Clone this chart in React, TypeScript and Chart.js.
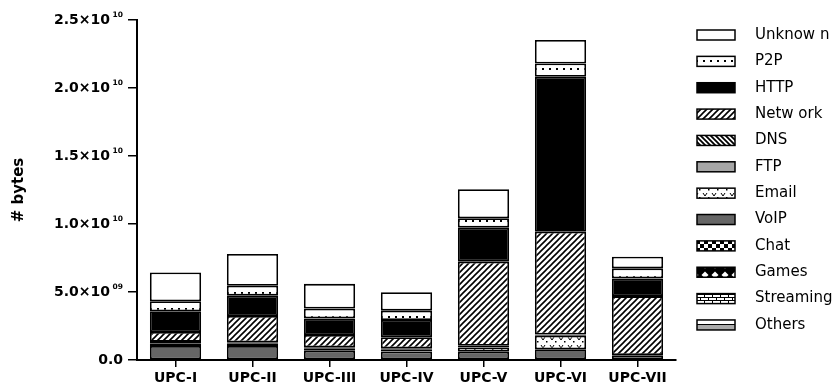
import React, { useEffect, useRef } from 'react';
import { Chart, registerables } from 'chart.js';

Chart.register(...registerables);

// Traffic volume per application class, in units of 10^9 bytes
const categories = ['UPC-I', 'UPC-II', 'UPC-III', 'UPC-IV', 'UPC-V', 'UPC-VI', 'UPC-VII'];
const others = [0, 0, 0, 0, 0, 0, 0];
const streaming = [0, 0, 0, 0, 0, 0, 0];
const games = [0, 0, 0, 0, 0, 0, 0];
const chat = [0, 0, 0, 0, 0, 0, 0];
const voip = [1.03, 1.03, 0.68, 0.62, 0.61, 0.79, 0.35];
const email = [0.2, 0.17, 0.15, 0.14, 0.3, 1.0, 0.02];
const ftp = [0, 0, 0, 0, 0, 0, 0];
const dns = [0.1, 0.1, 0.1, 0.1, 0.14, 0.08, 0];
const network = [0.73, 1.94, 0.91, 0.81, 6.18, 7.56, 4.33];
const http = [1.52, 1.49, 1.22, 1.27, 2.5, 11.4, 1.3];
const p2p = [0.74, 0.73, 0.72, 0.69, 0.69, 0.97, 0.74];
const unknown = [2.11, 2.33, 1.82, 1.35, 2.13, 1.73, 0.86];
const yTicks = [0, 5, 10, 15, 20, 25];
const UNIT = 1e9;

const FONT = 'DejaVu Sans';

function makePattern(w: number, h: number, paint: (ctx: CanvasRenderingContext2D) => void): CanvasPattern {
  const c = document.createElement('canvas');
  c.width = w;
  c.height = h;
  const ctx = c.getContext('2d')!;
  paint(ctx);
  return ctx.createPattern(c, 'repeat')!;
}

function buildFills() {
  const white = (ctx: CanvasRenderingContext2D, w: number, h: number) => {
    ctx.fillStyle = '#fff';
    ctx.fillRect(0, 0, w, h);
  };
  const p2pFill = makePattern(7, 8, (ctx) => {
    white(ctx, 7, 8);
    ctx.fillStyle = '#000';
    ctx.fillRect(3, 4, 2, 2);
  });
  const networkFill = makePattern(6, 6, (ctx) => {
    white(ctx, 6, 6);
    ctx.strokeStyle = '#000';
    ctx.lineWidth = 1.6;
    ctx.beginPath();
    ctx.moveTo(0, 6); ctx.lineTo(6, 0);
    ctx.moveTo(-1, 1); ctx.lineTo(1, -1);
    ctx.moveTo(5, 7); ctx.lineTo(7, 5);
    ctx.stroke();
  });
  const dnsFill = makePattern(5, 5, (ctx) => {
    white(ctx, 5, 5);
    ctx.strokeStyle = '#000';
    ctx.lineWidth = 1.8;
    ctx.beginPath();
    ctx.moveTo(0, 0); ctx.lineTo(5, 5);
    ctx.moveTo(4, -1); ctx.lineTo(6, 1);
    ctx.moveTo(-1, 4); ctx.lineTo(1, 6);
    ctx.stroke();
  });
  const emailFill = makePattern(9, 8, (ctx) => {
    white(ctx, 9, 8);
    ctx.strokeStyle = '#000';
    ctx.lineWidth = 1;
    ctx.beginPath();
    ctx.moveTo(1, 1); ctx.lineTo(3, 4); ctx.lineTo(5, 1);
    ctx.stroke();
    ctx.fillStyle = '#000';
    ctx.fillRect(6, 5, 1.5, 1.5);
  });
  const chatFill = makePattern(8, 8, (ctx) => {
    white(ctx, 8, 8);
    ctx.fillStyle = '#000';
    ctx.fillRect(0, 0, 4, 4);
    ctx.fillRect(4, 4, 4, 4);
  });
  const gamesFill = makePattern(10, 10, (ctx) => {
    ctx.fillStyle = '#000';
    ctx.fillRect(0, 0, 10, 10);
    ctx.fillStyle = '#fff';
    ctx.beginPath();
    ctx.moveTo(5, 1.5); ctx.lineTo(8.5, 5); ctx.lineTo(5, 8.5); ctx.lineTo(1.5, 5);
    ctx.closePath();
    ctx.fill();
  });
  const streamingFill = makePattern(8, 6, (ctx) => {
    white(ctx, 8, 6);
    ctx.fillStyle = '#000';
    ctx.fillRect(0, 0, 8, 1);
    ctx.fillRect(0, 3, 8, 1);
    ctx.fillRect(0, 0, 1, 3);
    ctx.fillRect(4, 3, 1, 3);
  });
  const othersFill = makePattern(4, 10, (ctx) => {
    white(ctx, 4, 10);
    ctx.fillStyle = '#000';
    ctx.fillRect(0, 4, 4, 1);
    ctx.fillStyle = '#aaa';
    ctx.fillRect(0, 5, 4, 5);
  });
  return { p2pFill, networkFill, dnsFill, emailFill, chatFill, gamesFill, streamingFill, othersFill };
}

// Legend drawn at the right of the plot, top entry = top of the stack
const legendPlugin = {
  id: 'stackLegend',
  afterDraw(chart: Chart) {
    const ctx = chart.ctx;
    const ds = chart.data.datasets;
    const top = 35;
    const step = 26.36;
    ctx.save();
    for (let i = ds.length - 1; i >= 0; i--) {
      const row = ds.length - 1 - i;
      const y = top + row * step;
      ctx.fillStyle = ds[i].backgroundColor as any;
      ctx.fillRect(697, y - 5, 38, 10);
      ctx.strokeStyle = '#000';
      ctx.lineWidth = 1.5;
      ctx.strokeRect(697, y - 5, 38, 10);
      ctx.fillStyle = '#000';
      ctx.font = `15px "${FONT}"`;
      ctx.textAlign = 'left';
      ctx.textBaseline = 'middle';
      ctx.fillText(String(ds[i].label), 755, y);
    }
    ctx.restore();
  },
};

// Y tick labels in scientific notation with a raised exponent
const yLabelPlugin = {
  id: 'sciTicks',
  afterDraw(chart: Chart) {
    const ctx = chart.ctx;
    const ys = chart.scales.y;
    const right = 123;
    ctx.save();
    ctx.fillStyle = '#000';
    ctx.textBaseline = 'middle';
    ctx.textAlign = 'left';
    for (const v of yTicks) {
      const py = ys.getPixelForValue(v);
      ctx.font = `bold 14px "${FONT}"`;
      if (v === 0) {
        const t = '0.0';
        ctx.fillText(t, right - ctx.measureText(t).width, py);
        continue;
      }
      const bytes = v * UNIT;
      const exp = Math.floor(Math.log10(bytes) + 1e-9);
      const mant = bytes / Math.pow(10, exp);
      const main = mant.toFixed(1) + '×10';
      const sup = String(exp).padStart(2, '0');
      ctx.font = `bold 7.5px "${FONT}"`;
      const supW = ctx.measureText(sup).width;
      ctx.fillText(sup, right - supW, py - 5);
      ctx.font = `bold 14px "${FONT}"`;
      const mainW = ctx.measureText(main).width;
      ctx.fillText(main, right - supW - 2.5 - mainW, py);
    }
    ctx.restore();
  },
};

export default function App() {
  const canvasRef = useRef<HTMLCanvasElement | null>(null);

  useEffect(() => {
    const canvas = canvasRef.current;
    if (!canvas) return;
    const f = buildFills();
    const series = [
      { label: 'Others', data: others, backgroundColor: f.othersFill },
      { label: 'Streaming', data: streaming, backgroundColor: f.streamingFill },
      { label: 'Games', data: games, backgroundColor: f.gamesFill },
      { label: 'Chat', data: chat, backgroundColor: f.chatFill },
      { label: 'VoIP', data: voip, backgroundColor: '#666666' },
      { label: 'Email', data: email, backgroundColor: f.emailFill },
      { label: 'FTP', data: ftp, backgroundColor: '#a6a6a6' },
      { label: 'DNS', data: dns, backgroundColor: f.dnsFill },
      { label: 'Netw ork', data: network, backgroundColor: f.networkFill },
      { label: 'HTTP', data: http, backgroundColor: '#000000' },
      { label: 'P2P', data: p2p, backgroundColor: f.p2pFill },
      { label: 'Unknow n', data: unknown, backgroundColor: '#ffffff' },
    ];
    const chart = new Chart(canvas, {
      type: 'bar',
      data: {
        labels: categories,
        datasets: series.map((s) => ({
          ...s,
          borderColor: '#000',
          borderWidth: 1.8,
          borderSkipped: false,
          barPercentage: 0.665,
          categoryPercentage: 1,
        })) as any,
      },
      options: {
        responsive: false,
        maintainAspectRatio: false,
        animation: false,
        layout: { padding: { left: 0, right: 161, top: 20, bottom: 0 } },
        plugins: {
          legend: { display: false },
          tooltip: { enabled: false },
        },
        scales: {
          x: {
            stacked: true,
            grid: {
              display: true,
              drawOnChartArea: false,
              offset: false,
              drawTicks: true,
              tickLength: 7,
              color: '#000',
              lineWidth: 1.5,
            },
            border: { display: true, color: '#000', width: 2 },
            ticks: {
              color: '#000',
              font: { family: FONT, size: 14, weight: 'bold' },
              padding: 3,
              maxRotation: 0,
              autoSkip: false,
            },
            afterFit: (s: any) => {
              s.height = 26;
            },
          },
          y: {
            stacked: true,
            min: 0,
            max: 25,
            ticks: { display: false, stepSize: 5 },
            grid: {
              display: true,
              drawOnChartArea: false,
              drawTicks: true,
              tickLength: 9,
              color: '#000',
              lineWidth: 1.5,
            },
            border: { display: true, color: '#000', width: 2 },
            title: {
              display: true,
              text: '# bytes',
              color: '#000',
              font: { family: FONT, size: 15, weight: 'bold' },
              padding: { top: 10, bottom: 0 },
            },
            afterFit: (s: any) => {
              s.width = 137;
            },
          },
        },
      } as any,
      plugins: [legendPlugin, yLabelPlugin],
    });
    return () => chart.destroy();
  }, []);

  return (
    <div style={{ position: 'fixed', left: 0, top: 0, width: 837, height: 386, background: '#fff' }}>
      <canvas ref={canvasRef} width={837} height={386} />
    </div>
  );
}
